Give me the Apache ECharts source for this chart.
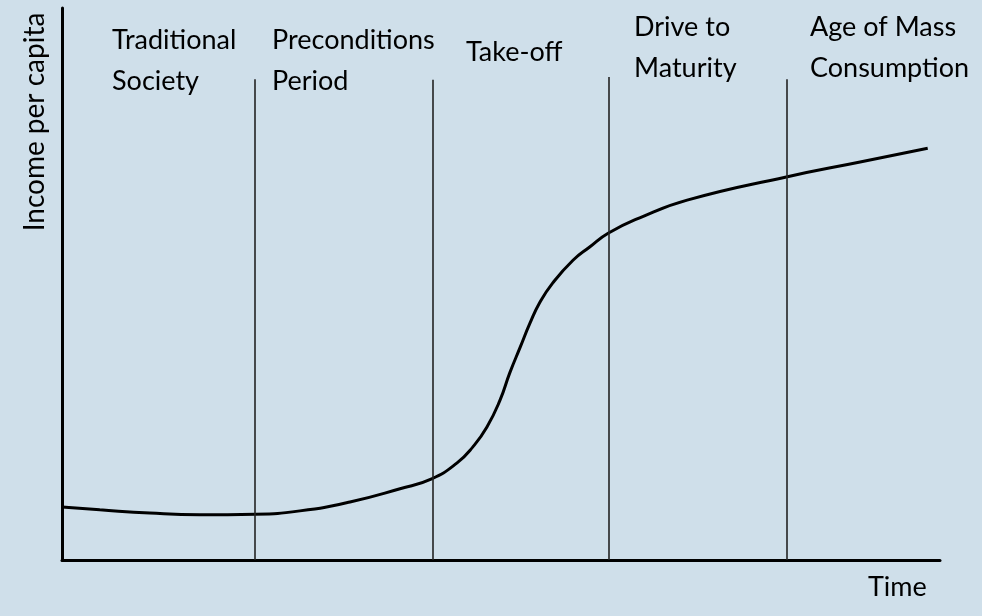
<!DOCTYPE html>
<html>
<head>
<meta charset="utf-8">
<script src="https://cdn.jsdelivr.net/npm/echarts@6/dist/echarts.min.js"></script>
<style>
html,body{margin:0;padding:0;background:#cfdfea;}
#chart{width:982px;height:616px;}
</style>
</head>
<body>
<div id="chart"></div>
<script>
// Time (0-100) and income per capita (0-100) along the curve
const timeValues = [0, 4.3, 10.0, 15.7, 22.0, 27.1, 32.8, 38.5, 42.1, 45.0, 46.8, 48.4, 49.9, 51.0, 52.2, 53.3, 54.4, 55.9, 58.2, 60.1, 62.2, 65.8, 71.2, 82.5, 90.9, 98.6];
const incomeValues = [9.6, 9.1, 8.5, 8.2, 8.3, 8.9, 10.5, 12.9, 14.7, 17.6, 20.5, 24.1, 29.0, 33.9, 38.6, 42.9, 46.6, 50.2, 54.3, 56.7, 59.2, 62.0, 65.2, 69.4, 72.1, 74.6];
// stage boundaries (time) and the heights of the dividing lines
const stageBoundaries = [22.0, 42.2, 62.3, 82.5];
const boundaryTops = [87.1, 87.0, 87.5, 87.1];
const stageNames = ['Traditional\nSociety', 'Preconditions\nPeriod', 'Take-off', 'Drive to\nMaturity', 'Age of Mass\nConsumption'];
const xAxisName = 'Time';
const yAxisName = 'Income per capita';

// layout only
const stageLabelPos = [[112, 20], [272, 20], [466, 32], [634, 7], [810, 7]];
const FONT = '27px Lato';

const curve = timeValues.map((t, i) => [t, incomeValues[i]]);
const chart = echarts.init(document.getElementById('chart'), null, {renderer: 'canvas'});

const graphics = stageNames.map((name, i) => ({
  type: 'text', x: stageLabelPos[i][0], y: stageLabelPos[i][1],
  style: {text: name, font: FONT, fill: '#000', lineHeight: 41, verticalAlign: 'top', align: 'left'}
}));
graphics.push({type: 'text', x: 868, y: 587, style: {text: xAxisName, font: FONT, fill: '#000', verticalAlign: 'middle', align: 'left'}});
graphics.push({type: 'text', x: 35, y: 122, rotation: Math.PI / 2,
  style: {text: yAxisName, font: '28px Lato', fill: '#000', verticalAlign: 'middle', align: 'center'}});

chart.setOption({
  backgroundColor: '#cfdfea',
  animation: false,
  grid: {left: 62, right: 42, top: 8, bottom: 56},
  xAxis: {type: 'value', min: 0, max: 100, axisLine: {lineStyle: {color: '#000', width: 3}}, axisTick: {show: false}, axisLabel: {show: false}, splitLine: {show: false}},
  yAxis: {type: 'value', min: 0, max: 100, axisLine: {show: true, lineStyle: {color: '#000', width: 3}}, axisTick: {show: false}, axisLabel: {show: false}, splitLine: {show: false}},
  graphic: graphics,
  series: [
    {
      type: 'line', data: curve, smooth: 0.5, symbol: 'none',
      lineStyle: {color: '#000', width: 3}, z: 3,
      markLine: {
        silent: true, symbol: 'none', label: {show: false},
        lineStyle: {color: '#222', width: 1.6, type: 'solid'},
        data: stageBoundaries.map((x, i) => [{coord: [x, 0]}, {coord: [x, boundaryTops[i]]}])
      }
    }
  ]
});
</script>
</body>
</html>
